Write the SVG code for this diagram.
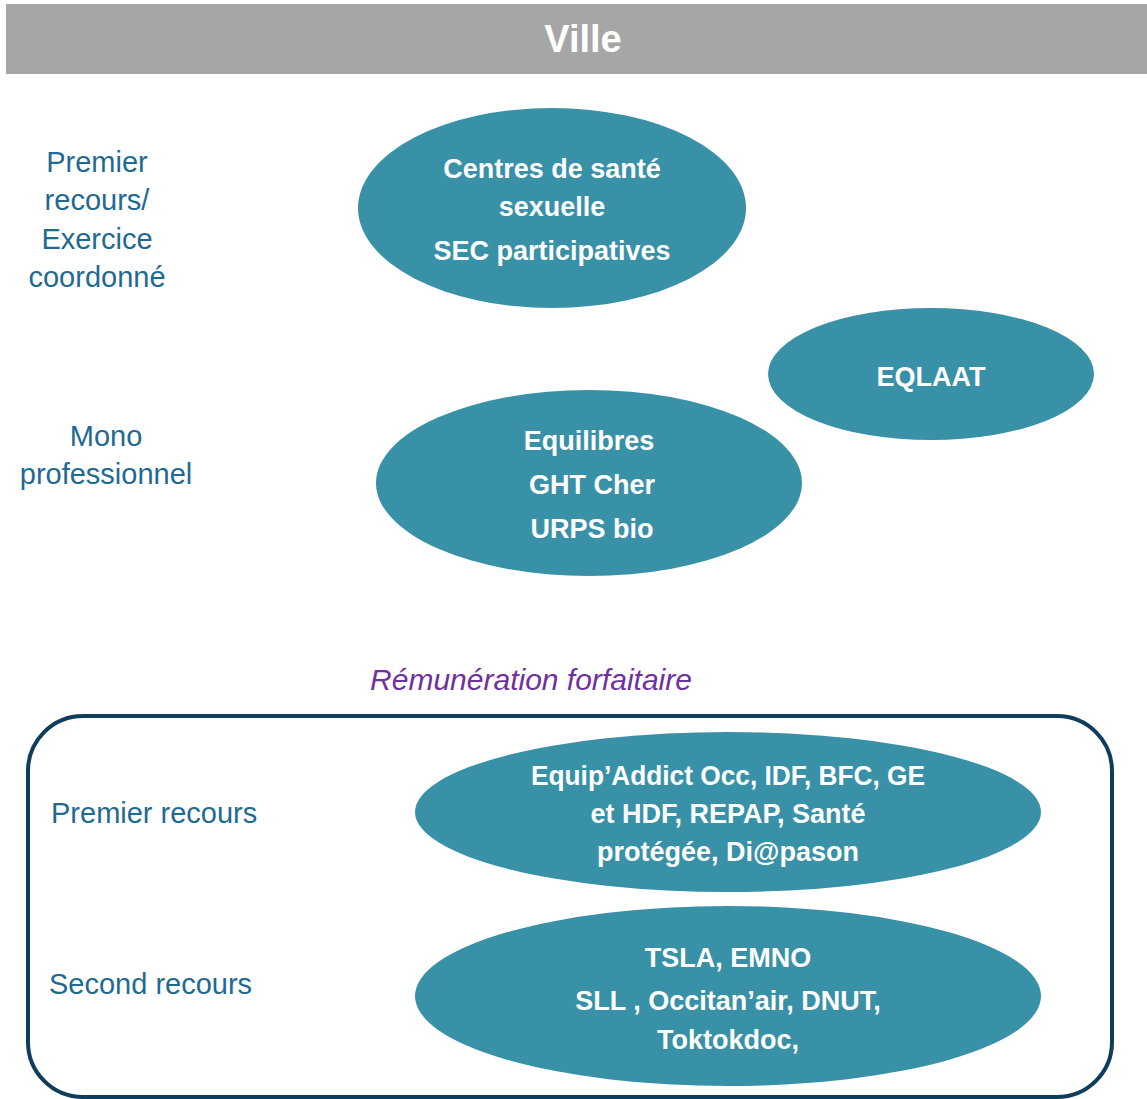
<svg xmlns="http://www.w3.org/2000/svg" width="1147" height="1099" viewBox="0 0 1147 1099">
<style>
.node{fill:#3891A7;}
.nt{font-family:"Liberation Sans",Arial,sans-serif;font-weight:bold;font-size:27px;fill:#FFFFFF;text-anchor:middle;}
.lbl{font-family:"Liberation Sans",Arial,sans-serif;font-size:29px;fill:#1F6A92;text-anchor:middle;}
.lbl2{font-family:"Liberation Sans",Arial,sans-serif;font-size:29px;fill:#1F6A92;}
</style>
<rect width="1147" height="1099" fill="#FFFFFF"/>
<g id="header">
<rect x="6" y="4" width="1141" height="70" fill="#A6A6A6"/>
<text x="583" y="52" font-family="Liberation Sans,Arial,sans-serif" font-weight="bold" font-size="38" fill="#FFFFFF" text-anchor="middle">Ville</text>
</g>
<g id="labels">
<text class="lbl" x="97" y="172">Premier</text>
<text class="lbl" x="97" y="210">recours/</text>
<text class="lbl" x="97" y="249">Exercice</text>
<text class="lbl" x="97" y="287">coordonné</text>
<text class="lbl" x="106" y="446">Mono</text>
<text class="lbl" x="106" y="484">professionnel</text>
<text x="531" y="690" font-family="Liberation Sans,Arial,sans-serif" font-style="italic" font-size="30" fill="#7030A0" text-anchor="middle">Rémunération forfaitaire</text>
</g>
<g id="forfait-box">
<rect x="28" y="716" width="1084" height="381" rx="55" ry="55" fill="none" stroke="#0F3D5C" stroke-width="4"/>
<text class="lbl2" x="51" y="823">Premier recours</text>
<text class="lbl2" x="49" y="994">Second recours</text>
</g>
<g id="n-centres">
<ellipse class="node" cx="552" cy="208" rx="194" ry="100"/>
<text class="nt" x="552" y="178">Centres de santé</text>
<text class="nt" x="552" y="216">sexuelle</text>
<text class="nt" x="552" y="260">SEC participatives</text>
</g>
<g id="n-eqlaat">
<ellipse class="node" cx="931" cy="374" rx="163" ry="66"/>
<text class="nt" x="931" y="386">EQLAAT</text>
</g>
<g id="n-equilibres">
<ellipse class="node" cx="589" cy="483" rx="213" ry="93"/>
<text class="nt" x="589" y="450">Equilibres</text>
<text class="nt" x="592" y="494">GHT Cher</text>
<text class="nt" x="592" y="538">URPS bio</text>
</g>
<g id="n-equipaddict">
<ellipse class="node" cx="728" cy="812" rx="313" ry="80"/>
<text class="nt" x="728" y="785" textLength="394" lengthAdjust="spacingAndGlyphs">Equip’Addict Occ, IDF, BFC, GE</text>
<text class="nt" x="728" y="823">et HDF, REPAP, Santé</text>
<text class="nt" x="728" y="861">protégée, Di@pason</text>
</g>
<g id="n-tsla">
<ellipse class="node" cx="728" cy="996" rx="313" ry="90"/>
<text class="nt" x="728" y="967">TSLA, EMNO</text>
<text class="nt" x="728" y="1010">SLL , Occitan’air, DNUT,</text>
<text class="nt" x="728" y="1049">Toktokdoc,</text>
</g>
<g id="connectors"></g>
</svg>
